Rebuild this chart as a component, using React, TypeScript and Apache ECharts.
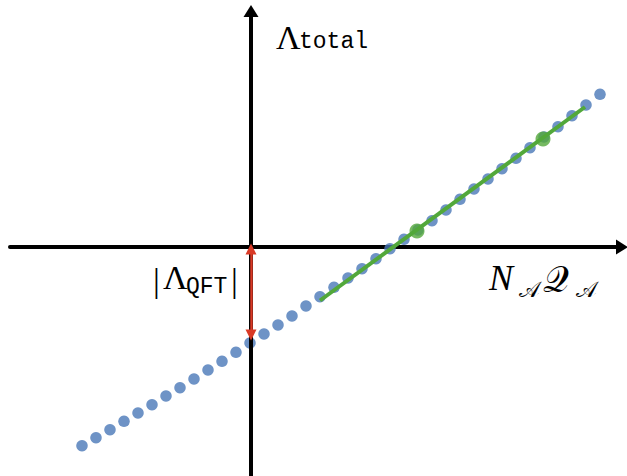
import React, { useEffect, useRef } from "react";
import * as echarts from "echarts";

// Blue sample points (x: N_A Q_A, y: Λ_total), in plot units (origin at axes crossing)
const dotX = [-169, -155, -141, -127, -113, -99, -85, -71, -57, -43, -29, -15, -1, 13, 27, 41, 55, 69, 83, 97, 111, 125, 139, 153, 167, 181, 195, 209, 223, 237, 251, 265, 279, 293, 307, 321, 335, 349];
const dotY = [-198.7, -190.7, -182.7, -174.3, -166, -157.7, -149, -140.7, -132, -123, -114.3, -105.3, -96, -87, -78, -69, -59, -49.7, -40.3, -31, -21.7, -11.7, -1.7, 7.7, 17, 26.3, 37, 47.7, 58, 68, 78.3, 88.7, 99.3, 110, 120.3, 131.3, 142, 152.7];

// Green linear fit segment and its two marked points
const fitX = [69, 334];
const fitY = [-53.5, 140];
const markedX = [166, 292];
const markedY = [16, 108];

// |Λ_QFT| arrow : from the axis down to the curve at x = 0
const qftTop = -2;
const qftBottom = -88;

// Axis extents
const xRange = [-241, 371];
const yRange = [-229, 236];

const SERIF = "Liberation Serif, DejaVu Serif, serif";
const MONO = "Liberation Mono, DejaVu Sans Mono, monospace";

export default function App() {
  const ref = useRef<HTMLDivElement>(null);
  useEffect(() => {
    document.body.style.margin = "0";
    const chart = echarts.init(ref.current!, null, { renderer: "svg" });
    const txt = (text: string, x: number, y: number, size: number, family: string, italic = false) => ({
      type: "text",
      x,
      y,
      z: 10,
      style: {
        text,
        fontSize: size,
        fontFamily: family,
        fontStyle: italic ? "italic" : "normal",
        fill: "#000",
        verticalAlign: "middle",
        align: "left",
      },
    });
    chart.setOption({
      animation: false,
      backgroundColor: "#ffffff",
      grid: { left: 10, right: 5, top: 11, bottom: 0 },
      xAxis: {
        type: "value",
        min: xRange[0],
        max: xRange[1],
        z: 0,
        axisLine: {
          onZero: true,
          symbol: ["none", "triangle"],
          symbolSize: [15, 12],
          lineStyle: { color: "#000", width: 4 },
        },
        axisTick: { show: false },
        axisLabel: { show: false },
        splitLine: { show: false },
      },
      yAxis: {
        type: "value",
        min: yRange[0],
        max: yRange[1],
        z: 3,
        axisLine: {
          onZero: true,
          symbol: ["none", "triangle"],
          symbolSize: [15, 12],
          lineStyle: { color: "#000", width: 4 },
        },
        axisTick: { show: false },
        axisLabel: { show: false },
        splitLine: { show: false },
      },
      series: [
        {
          type: "scatter",
          z: 2,
          symbol: "circle",
          symbolSize: 11.5,
          itemStyle: { color: "#4a78b8" },
          data: dotX.map((x, i) => [x, dotY[i]]),
        },
        {
          type: "line",
          z: 4,
          symbol: "none",
          lineStyle: { color: "#52a83a", width: 4 },
          data: fitX.map((x, i) => [x, fitY[i]]),
        },
        {
          type: "scatter",
          z: 5,
          symbol: "circle",
          symbolSize: 15,
          itemStyle: { color: "#52a83a" },
          data: markedX.map((x, i) => [x, markedY[i]]),
        },
        {
          type: "line",
          z: 6,
          data: [],
          markLine: {
            silent: true,
            symbol: ["triangle", "triangle"],
            symbolSize: [11, 11],
            label: { show: false },
            lineStyle: { color: "#d93a26", width: 2.5, type: "solid" },
            data: [[{ coord: [0, qftTop] }, { coord: [0, qftBottom] }]],
          },
        },
      ],
      graphic: [
        txt("Λ", 276, 37, 34, SERIF),
        txt("total", 299, 42, 23, MONO),
        txt("|", 153, 280, 34, SERIF),
        txt("Λ", 163, 277, 34, SERIF),
        txt("QFT", 186, 287, 23, MONO),
        txt("|", 231, 280, 34, SERIF),
        txt("N", 489, 278, 36, SERIF, true),
        txt("𝒜", 519, 289, 22, SERIF),
        txt("𝒬", 543, 280, 36, SERIF),
        txt("𝒜", 576, 289, 22, SERIF),
      ],
    });
    return () => chart.dispose();
  }, []);
  return (
    <div
      ref={ref}
      style={{ width: 627, height: 476, position: "fixed", left: 0, top: 0, background: "#fff" }}
    />
  );
}
